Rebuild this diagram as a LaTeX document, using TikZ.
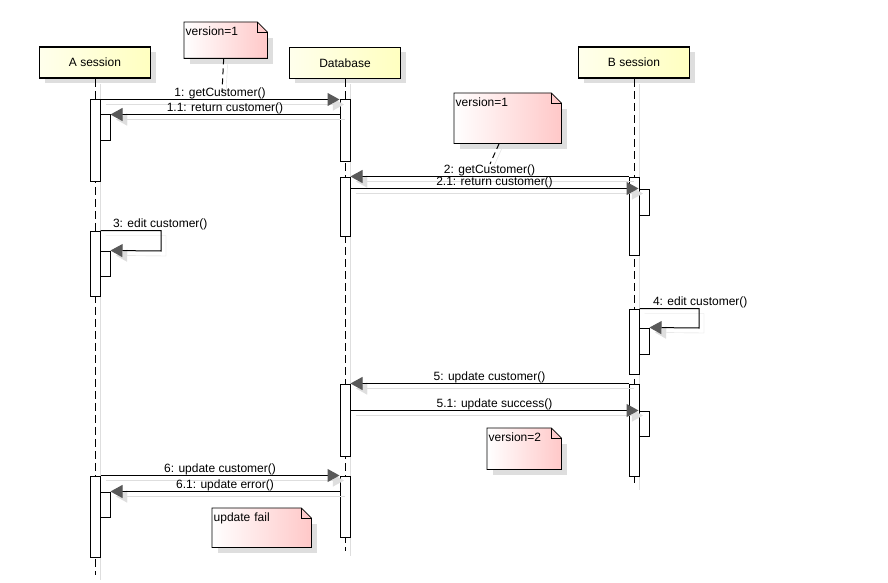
\documentclass[tikz,border=0pt]{standalone}
\usepackage{fontspec}
\setmainfont{Liberation Sans}
\usetikzlibrary{positioning, arrows.meta, shadows, backgrounds}
\definecolor{shadowgray}{RGB}{222,222,222}
\definecolor{notepink}{RGB}{255,200,200}
\definecolor{headlight}{RGB}{255,255,236}
\definecolor{headyellow}{RGB}{255,255,192}
% dog-eared frame behind a note node
\newcommand{\notefrm}[1]{%
  \fill[shadowgray] ([shift={(6,6)}]#1.south west) rectangle ([shift={(6,16)}]#1.north east);
  \shadedraw[left color=white, right color=notepink, draw=black, line width=0.8pt]
    (#1.south west) -- (#1.north west) -- ([xshift=-10pt]#1.north east)
    -- ([yshift=-10pt]#1.north east) -- (#1.south east) -- cycle;
  \draw[line width=0.8pt] ([xshift=-10pt]#1.north east) |- ([yshift=-10pt]#1.north east);
}

\begin{document}
\begin{tikzpicture}[x=1pt, y=-1pt, font=\fontsize{12}{14}\selectfont,
  head/.style={draw, line width=1.9pt, minimum width=111pt, minimum height=31pt,
    left color=headlight, right color=headyellow,
    drop shadow={shadow xshift=5pt, shadow yshift=-5pt, fill=shadowgray, opacity=1}},
  life/.style={line width=1pt, dash pattern=on 8pt off 4pt,
    preaction={draw=shadowgray, solid, transform canvas={shift={(5pt,-5pt)}}}},
  act/.style={draw, fill=white, line width=1pt, minimum width=10pt, minimum height=#1, inner sep=0pt},
  msg/.style={line width=1pt, -{Triangle[length=12pt, width=13pt, color=black!65]},
    preaction={draw=shadowgray, -{Triangle[length=12pt, width=13pt, color=shadowgray]},
      transform canvas={shift={(5pt,-5pt)}}}},
  lbl/.style={inner sep=0pt, above},
  note/.style 2 args={text width=#1, text height=12pt, text depth=#2, inner sep=1.5pt,
    align=left, anchor=north west},
  notelink/.style={line width=1pt, dash pattern=on 6pt off 4pt,
    preaction={draw=shadowgray, solid, transform canvas={shift={(4pt,-2pt)}}}}]

  \path[use as bounding box] (0,0) rectangle (888,583);

  % heads and lifelines
  \node[head] (ha) at (95,62.5) {A session};
  \node[head] (hd) at (345,63) {Database};
  \node[head] (hb) at (634,62.5) {B session};
  \coordinate (aEnd) at (95,575);
  \coordinate (dEnd) at (345,551);
  \coordinate (bEnd) at (634,485);
  \draw[life] (ha.south) -- (aEnd);
  \draw[life] (hd.south) -- (dEnd);
  \draw[life] (hb.south) -- (bEnd);

  % activations
  \node[act=81pt] (a1) at (95,140.5) {};
  \node[act=25pt] (a1s) at (105,127.5) {};
  \node[act=61pt] (d1) at (345,130.5) {};
  \node[act=59pt] (d2) at (345,206.5) {};
  \node[act=78pt] (b1) at (634,216) {};
  \node[act=26pt] (b1s) at (644,202) {};
  \node[act=65pt] (a2) at (95,263.5) {};
  \node[act=25pt] (a2s) at (105,263.5) {};
  \node[act=65pt] (b2) at (634,341.5) {};
  \node[act=26pt] (b2s) at (644,341) {};
  \node[act=72pt] (d3) at (345,420) {};
  \node[act=92pt] (b3) at (634,430) {};
  \node[act=25pt] (b3s) at (644,423.5) {};
  \node[act=81pt] (a3) at (95,516.5) {};
  \node[act=25pt] (a3s) at (105,504.5) {};
  \node[act=61pt] (d4) at (345,506.5) {};

  % notes
  \node[note={80pt}{21pt}] (note1) at (184,22) {version=1};
  \node[note={104pt}{35pt}] (note2) at (454,93) {version=1};
  \node[note={71pt}{26pt}] (note3) at (487,428) {version=2};
  \node[note={96pt}{24pt}] (note4) at (212,508) {update fail};
  \begin{scope}[on background layer]
    \fill[white] (0,0) rectangle (888,583);
    \notefrm{note1}
    \notefrm{note2}
    \notefrm{note3}
    \notefrm{note4}
  \end{scope}
  \coordinate (n1end) at (222,92);
  \coordinate (n2end) at (490,164);
  \draw[notelink] ([xshift=-2pt]note1.south) -- (n1end);
  \draw[notelink] ([xshift=-8.5pt]note2.south) -- (n2end);

  % messages
  \draw[msg] (a1.north east) -- node[lbl] {1: getCustomer()} (d1.north west);
  \draw[msg] (d1.west |- a1s.north) -- node[lbl] {1.1: return customer()} (a1s.north east);
  \draw[msg] (b1.north west) -- node[lbl] {2: getCustomer()} (d2.north east);
  \draw[msg] (d2.east |- b1s.north) -- node[lbl] {2.1: return customer()} (b1s.north west);
  \coordinate (a2turn) at (161,251);
  \draw[msg] (a2.north east) node[inner sep=0pt, anchor=south west, xshift=12pt] {3: edit customer()}
    -| (a2turn) -- (a2s.north east);
  \coordinate (b2turn) at (699,328);
  \draw[msg] (b2.north east) node[inner sep=0pt, anchor=south west, xshift=13pt] {4: edit customer()}
    -| (b2turn) -- (b2s.north east);
  \draw[msg] (b3.north west) -- node[lbl] {5: update customer()} (d3.north east);
  \draw[msg] (d3.east |- b3s.north) -- node[lbl] {5.1: update success()} (b3s.north west);
  \draw[msg] (a3.north east) -- node[lbl] {6: update customer()} (d4.north west);
  \draw[msg] (d4.west |- a3s.north) -- node[lbl] {6.1: update error()} (a3s.north east);
\end{tikzpicture}
\end{document}
